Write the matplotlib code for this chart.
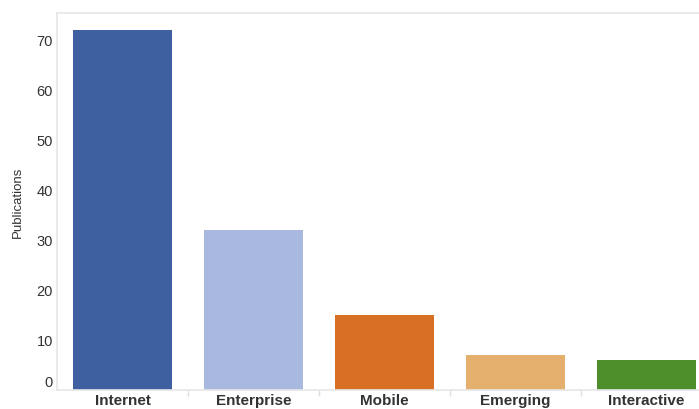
import matplotlib
matplotlib.use("Agg")
import matplotlib.pyplot as plt
from matplotlib.ticker import FixedLocator, FuncFormatter

categories = ["Internet", "Enterprise", "Mobile", "Emerging", "Interactive"]
values = [72, 32, 15, 7, 6]
colors = ["#3e5fa0", "#a9b8df", "#d77024", "#e5b06e", "#4e8f2c"]
yticks = [0, 10, 20, 30, 40, 50, 60, 70]

plt.rcParams['font.family'] = ['Liberation Sans', 'DejaVu Sans']

fig = plt.figure(figsize=(6.99, 4.10), dpi=100)
ax = fig.add_axes([57/699, 1 - 391/410, (712 - 57)/699, (391 - 14)/410])

x = list(range(len(categories)))
ax.bar(x, values, width=0.75, color=colors, edgecolor="none")

ax.set_xlim(-0.5, len(categories) - 0.5)
ax.set_ylim(0, 75.4)
ax.set_yticks(yticks)
# the zero label is drawn separately, slightly raised as in the reference
ax.yaxis.set_major_formatter(FuncFormatter(lambda v, p: "" if v == 0 else f"{v:g}"))
ax.tick_params(axis="y", length=0, pad=3, labelsize=10.5, labelcolor="#333333")
ax.annotate("0", xy=(0, yticks[0]), xycoords=("axes fraction", "data"),
            xytext=(-3, 6), textcoords="offset points",
            ha="right", va="center", fontsize=10.5, color="#333333")

ax.set_xticks(x)
ax.set_xticklabels(categories, fontsize=11, fontweight="bold", color="#333333")
ax.tick_params(axis="x", length=0, pad=2)
ax.xaxis.set_minor_locator(FixedLocator([i + 0.5 for i in range(len(categories) - 1)]))
ax.tick_params(axis="x", which="minor", length=4, color="#dddddd", width=1)

ax.set_ylabel("Publications", fontsize=9.5, color="#333333", labelpad=9)

for side in ["left", "top", "bottom"]:
    ax.spines[side].set_color("#e6e6e6")
    ax.spines[side].set_linewidth(1.2)
ax.spines["right"].set_visible(False)

fig.savefig("out.png", dpi=100)
